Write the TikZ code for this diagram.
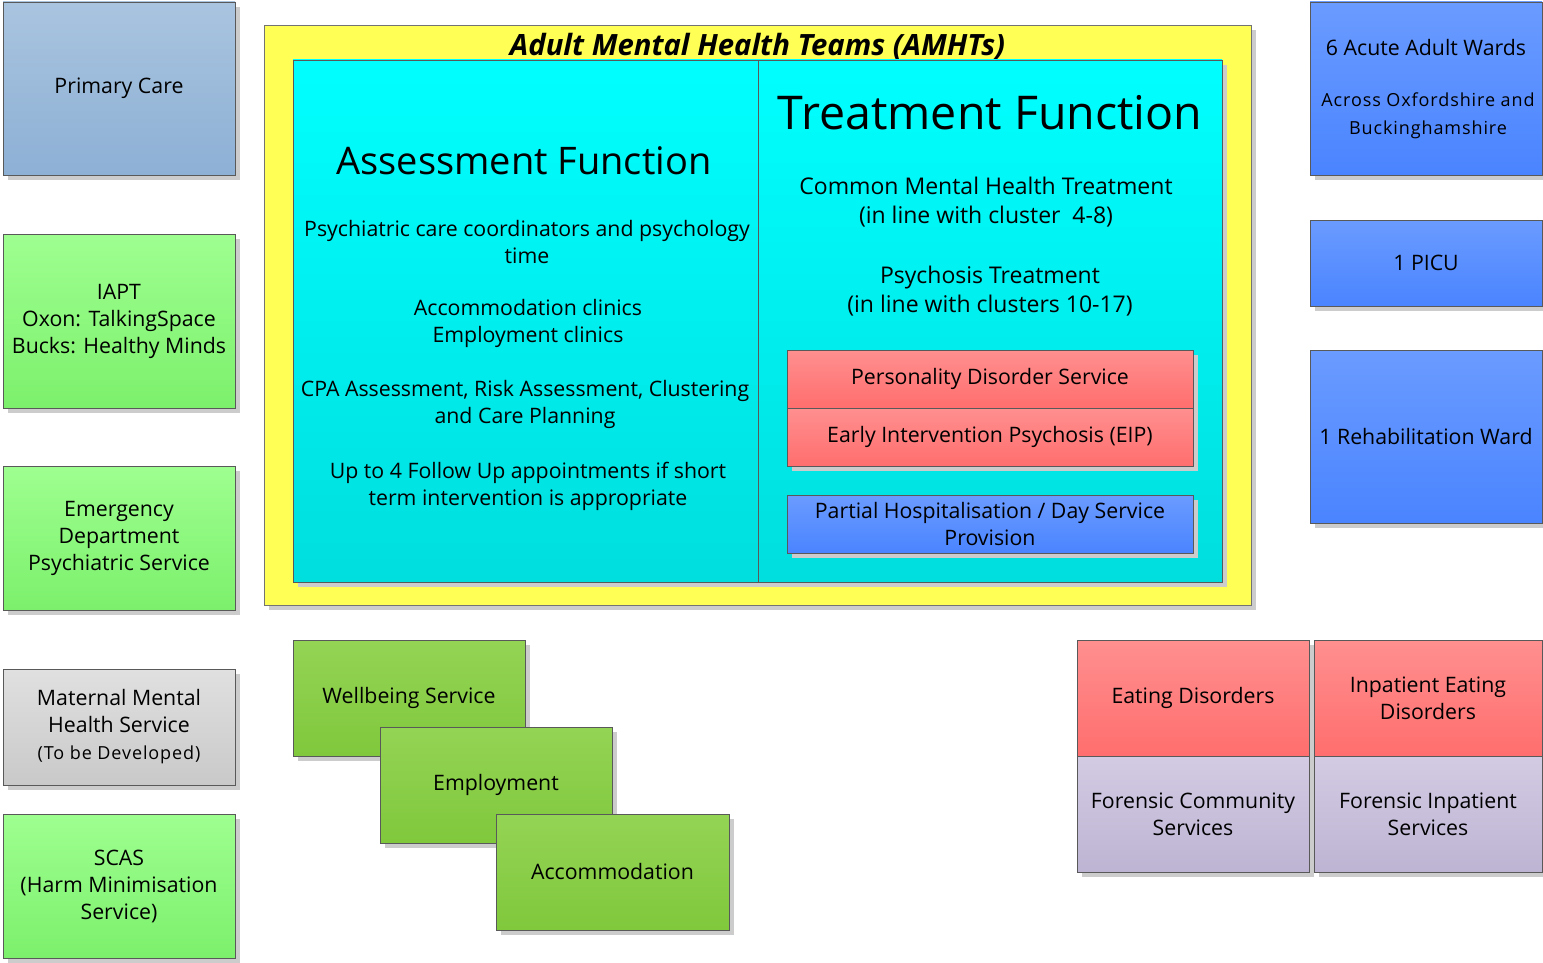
\documentclass[tikz,border=0pt]{standalone}
\usepackage{fontspec}
\setmainfont{Open Sans}
\usetikzlibrary{shadows}
\definecolor{pcTop}{HTML}{A9C4DF}\definecolor{pcBot}{HTML}{8DB0D5}
\definecolor{lgTop}{HTML}{9EFF90}\definecolor{lgBot}{HTML}{7CF06C}
\definecolor{dgTop}{HTML}{94D455}\definecolor{dgBot}{HTML}{80C83C}
\definecolor{grTop}{HTML}{E0E0E0}\definecolor{grBot}{HTML}{C9C9C9}
\definecolor{rdTop}{HTML}{FF8F8F}\definecolor{rdBot}{HTML}{FF6E6E}
\definecolor{blTop}{HTML}{6A9BFF}\definecolor{blBot}{HTML}{4A84FF}
\definecolor{lvTop}{HTML}{D3CBE3}\definecolor{lvBot}{HTML}{BDB4D3}
\definecolor{cyTop}{HTML}{00FFFF}\definecolor{cyBot}{HTML}{00DEDE}
\definecolor{ylw}{HTML}{FFFF55}
\begin{document}
\begin{tikzpicture}[x=1pt,y=-1pt,
  every node/.style={inner sep=0pt, align=center, text=black},
  card/.style={draw=black!65, line width=0.9pt,
    general shadow={fill=black!20, shadow xshift=5pt, shadow yshift=-5pt},
    font=\fontsize{21.3}{27}\selectfont},
  primarybox/.style={card, top color=pcTop, bottom color=pcBot},
  litegreen/.style={card, top color=lgTop, bottom color=lgBot},
  darkgreen/.style={card, top color=dgTop, bottom color=dgBot},
  greybox/.style={card, top color=grTop, bottom color=grBot},
  redbox/.style={card, top color=rdTop, bottom color=rdBot},
  bluebox/.style={card, top color=blTop, bottom color=blBot},
  lavbox/.style={card, top color=lvTop, bottom color=lvBot},
  cyanbox/.style={card, top color=cyTop, bottom color=cyBot},
  bodytext/.style={font=\fontsize{21.3}{27}\selectfont},
  treattext/.style={font=\fontsize{23}{29}\selectfont},
  smalltext/.style={font=\fontsize{18}{28}\selectfont\addfontfeature{LetterSpace=5}}
]
\useasboundingbox (0,0) rectangle (1543,963);

% left column
\node[primarybox, minimum width=232pt, minimum height=173pt] (primary) at (119,88.5) {Primary Care};
\node[litegreen, minimum width=232pt, minimum height=174pt] (iapt) at (119,321) {IAPT\\Oxon: TalkingSpace\\Bucks: Healthy Minds};
\node[litegreen, minimum width=232pt, minimum height=144pt] (emerg) at (119,538) {Emergency\\Department\\Psychiatric Service};
\node[greybox, minimum width=232pt, minimum height=116pt] (maternal) at (119,727) {Maternal Mental\\Health Service\\{\fontsize{18}{27}\selectfont\addfontfeature{LetterSpace=5}(To be Developed)}};
\node[litegreen, minimum width=232pt, minimum height=144pt] (scas) at (119,886) {SCAS\\(Harm Minimisation\\Service)};

% AMHT frame
\node[card, fill=ylw, draw=black!55, minimum width=987pt, minimum height=580pt] (amht) at (757.5,315) {};
\node[font=\fontsize{29.3}{33}\selectfont\bfseries\itshape] (amhttitle) at (757.5,47) {Adult Mental Health Teams (AMHTs)};
\node[cyanbox, minimum width=465pt, minimum height=522pt] (assess) at (525.5,321) {};
\node[cyanbox, minimum width=464pt, minimum height=522pt] (treat) at (990,321) {};

% assessment function content
\node[font=\fontsize{38}{44}\selectfont] (assesstitle) at (524,161) {Assessment Function};
\node[bodytext] (a1) at (527,242) {Psychiatric care coordinators and psychology\\time};
\node[bodytext] (a2) at (528,323.5) {Accommodation clinics\\Employment clinics};
\node[bodytext] (a3) at (525,404) {CPA Assessment, Risk Assessment, Clustering\\and Care Planning};
\node[bodytext] (a4) at (528,486) {Up to 4 Follow Up appointments if short\\term intervention is appropriate};

% treatment function content
\node[font=\fontsize{46.5}{52}\selectfont] (treattitle) at (990,113) {Treatment Function};
\node[treattext] (t1) at (986,202.5) {Common Mental Health Treatment\\(in line with cluster\ \ 4-8)};
\node[treattext] (t2) at (990,291.5) {Psychosis Treatment\\(in line with clusters 10-17)};
\node[redbox, minimum width=406pt, minimum height=58pt] (pds) at (990,379) {Personality Disorder Service};
\node[redbox, minimum width=406pt, minimum height=58pt] (eip) at (990,437) {Early Intervention Psychosis (EIP)};
\node[bluebox, minimum width=406pt, minimum height=58pt] (partial) at (990,524) {Partial Hospitalisation / Day Service\\Provision};

% inpatient column
\node[bluebox, minimum width=232pt, minimum height=173pt] (acute) at (1426,88.5) {};
\node[bodytext] (acutetitle) at (1426,48) {6 Acute Adult Wards};
\node[smalltext] (acutesub) at (1428,116) {Across Oxfordshire and\\Buckinghamshire};
\node[bluebox, minimum width=232pt, minimum height=86pt] (picu) at (1426,263) {1 PICU};
\node[bluebox, minimum width=232pt, minimum height=173pt] (rehab) at (1426,436.5) {1 Rehabilitation Ward};

% specialist services
\node[redbox, minimum width=232pt, minimum height=116pt] (eating) at (1193,698) {Eating Disorders};
\node[redbox, minimum width=228pt, minimum height=116pt] (ipeating) at (1428,698) {Inpatient Eating\\Disorders};
\node[lavbox, minimum width=232pt, minimum height=116pt] (forcom) at (1193,814) {Forensic Community\\Services};
\node[lavbox, minimum width=228pt, minimum height=116pt] (forinp) at (1428,814) {Forensic Inpatient\\Services};

% community support
\node[darkgreen, minimum width=232pt, minimum height=116pt] (wellbeing) at (409,698) {Wellbeing Service};
\node[darkgreen, minimum width=232pt, minimum height=116pt] (employ) at (496,785) {Employment};
\node[darkgreen, minimum width=233pt, minimum height=116pt] (accom) at (612.5,872) {Accommodation};
\end{tikzpicture}
\end{document}
